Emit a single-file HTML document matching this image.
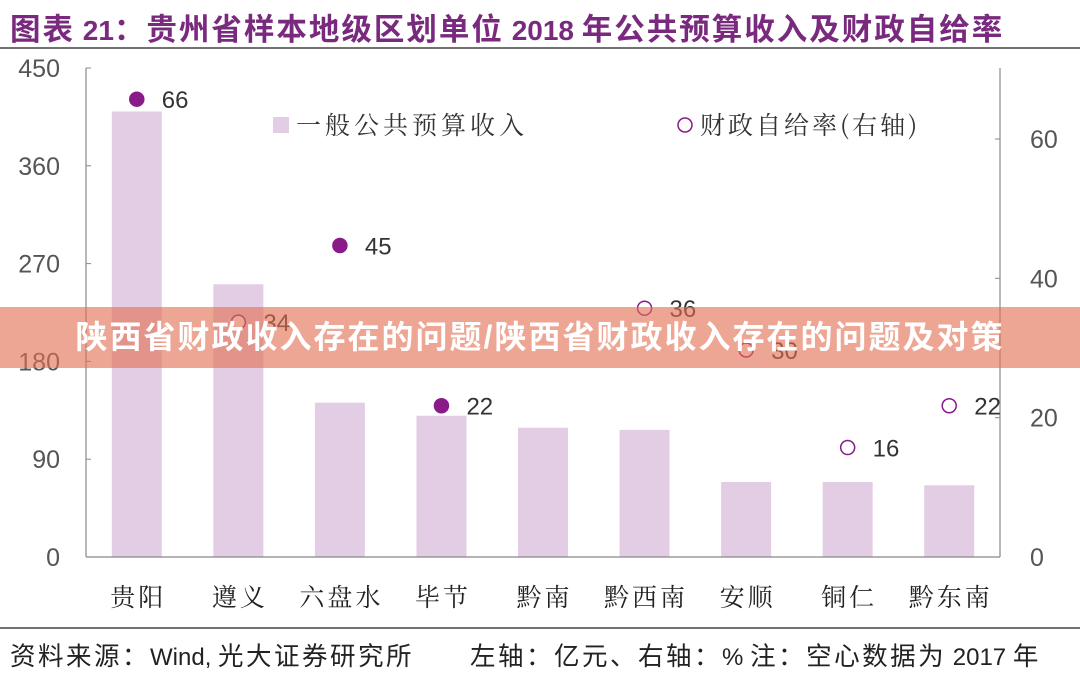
<!DOCTYPE html>
<html><head><meta charset="utf-8"><style>
body{margin:0;width:1080px;height:677px;background:#fff;overflow:hidden;font-family:"Liberation Sans","Noto Sans CJK SC",sans-serif;position:relative}
#title{position:absolute;left:10px;top:5px;font-size:28px;font-weight:bold;color:#7a2a7e;white-space:nowrap}
#title .c{font-size:30.5px;letter-spacing:2px}
#banner{position:absolute;left:0;top:307px;width:1080px;height:61px;background:rgba(226,112,82,0.62);color:#fff;font-weight:bold;font-size:32px;line-height:61px;text-align:center;letter-spacing:2px}
#src{position:absolute;left:10px;top:636px;font-size:24px;color:#222;white-space:nowrap}
#src .c{font-size:25.5px;letter-spacing:2.5px}
</style></head><body>
<div id="title"><span class="c">图表</span> 21<span class="c">：贵州省样本地级区划单位</span> 2018 <span class="c">年公共预算收入及财政自给率</span></div>
<svg id="chart" width="1080" height="677" style="position:absolute;left:0;top:0"></svg>
<div id="banner">陕西省财政收入存在的问题/陕西省财政收入存在的问题及对策</div>
<div id="src"><span class="c">资料来源：</span>Wind, <span class="c">光大证券研究所　　左轴：亿元、右轴：</span>%  <span class="c">注：空心数据为</span> 2017 <span class="c">年</span></div>
<script>
const categories=["贵阳","遵义","六盘水","毕节","黔南","黔西南","安顺","铜仁","黔东南"];
const revenue=[410,251,142,130,119,117,69,69,66];
const ratio=[66,34,45,22,null,36,30,16,22];
const ratioHollow=[false,true,false,false,false,true,true,true,true];
const leftTicks=[0,90,180,270,360,450];
const rightTicks=[0,20,40,60];
const NS="http://www.w3.org/2000/svg";
const svg=document.getElementById('chart');
const X0=86,X1=1000,Y0=557,YT=68;
const yL=v=>Y0-(Y0-YT)*v/450;
const yR=v=>Y0-(Y0-139)*v/60;
const step=(X1-X0)/categories.length;
const xC=i=>X0+step*(i+0.5);
function mk(t,a,txt){const e=document.createElementNS(NS,t);for(const k in a)e.setAttribute(k,a[k]);if(txt!=null)e.textContent=txt;svg.appendChild(e);return e;}
let e;
e=mk('line',{x1:0,y1:48,x2:1080,y2:48,stroke:'#444','stroke-width':1.5});


e=mk('line',{x1:0,y1:628,x2:1080,y2:628,stroke:'#444','stroke-width':1.5});


revenue.forEach((v,i)=>{
 e=mk('rect',{x:xC(i)-25,y:yL(v),width:50,height:Y0-yL(v),fill:'#e2cde4'});
 
 
 e=mk('text',{x:xC(i)+1.5,y:606,'text-anchor':'middle','font-size':25,'letter-spacing':3,fill:'#222','font-family':'"Noto Serif CJK SC","Noto Sans CJK SC",serif'},categories[i]);
 
 
});
e=mk('line',{x1:X0,y1:YT,x2:X0,y2:Y0,stroke:'#888','stroke-width':1.2});


e=mk('line',{x1:X1,y1:YT,x2:X1,y2:Y0,stroke:'#888','stroke-width':1.2});


e=mk('line',{x1:X0,y1:Y0,x2:X1,y2:Y0,stroke:'#888','stroke-width':1.2});


leftTicks.forEach(t=>{
 mk('line',{x1:X0,y1:yL(t),x2:X0+5,y2:yL(t),stroke:'#888'});
 e=mk('text',{x:60,y:yL(t)+9,'text-anchor':'end','font-size':25,fill:'#555'},t);
 
 
});
rightTicks.forEach(t=>{
 mk('line',{x1:X1-5,y1:yR(t),x2:X1,y2:yR(t),stroke:'#888'});
 e=mk('text',{x:1030,y:yR(t)+9,'font-size':25,fill:'#555'},t);
 
 
});
ratio.forEach((v,i)=>{
 if(v==null)return;
 const h=ratioHollow[i];
 e=mk('circle',{cx:xC(i),cy:yR(v)+2,r:7,fill:h?'#fff':'#8b1a89',stroke:'#8b1a89','stroke-width':1.5});
 
 
 e=mk('text',{x:xC(i)+25,y:yR(v)+11,'font-size':24,fill:'#333'},v);
 
 
});
e=mk('rect',{x:273,y:117,width:16,height:16,fill:'#e2cde4'});


e=mk('text',{x:296,y:134,'font-size':25,'letter-spacing':4,fill:'#333','font-family':'"Noto Serif CJK SC",serif'},'一般公共预算收入');


e=mk('circle',{cx:685,cy:125,r:7,fill:'#fff',stroke:'#8b1a89','stroke-width':1.5});


e=mk('text',{x:700,y:134,'font-size':25,'letter-spacing':3,fill:'#333','font-family':'"Noto Serif CJK SC",serif'},'财政自给率(右轴)');


</script>
</body></html>
